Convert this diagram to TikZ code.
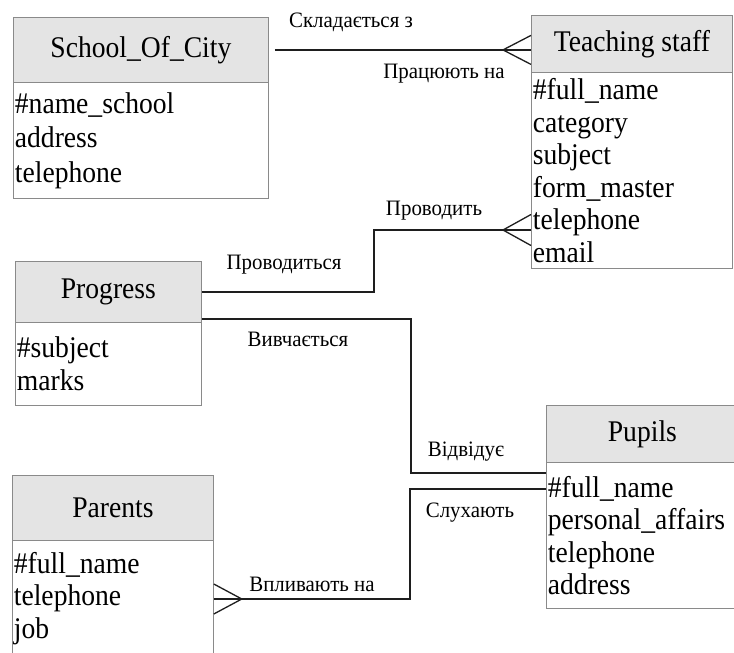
\documentclass[tikz,border=0pt]{standalone}
\usepackage{fontspec}
\setmainfont{Liberation Serif}
\newfontfamily\entfam{Liberation Serif}[FakeStretch=0.92]
\newfontfamily\lblfam{Liberation Serif}[FakeStretch=0.95]
\usetikzlibrary{calc}
\definecolor{boxgray}{HTML}{8A8A8A}
\definecolor{hdrgray}{HTML}{E4E4E4}
\definecolor{linecol}{HTML}{1E1E1E}
\newcommand{\efont}{\entfam\fontsize{30}{32.5}\selectfont}
\newcommand{\esfont}{\entfam\fontsize{30}{34.5}\selectfont}
\newcommand{\lfont}{\lblfam\fontsize{22}{24}\selectfont}
\begin{document}
\begin{tikzpicture}[x=1pt,y=-1pt,
  hdr/.style={draw=boxgray, fill=hdrgray, line width=0.8pt, anchor=north west,
    inner sep=0pt, font=\efont},
  bdy/.style={draw=boxgray, fill=white, line width=0.8pt, anchor=north west,
    align=left, inner xsep=1.5pt, inner ysep=0pt, font=\efont},
  conn/.style={draw=linecol, line width=1.3pt},
  lbl/.style={font=\lfont, inner sep=0pt, text=black}]
\useasboundingbox[fill=white] (0,0) rectangle (734,653);

% School_Of_City
\node[hdr, minimum width=255pt, minimum height=65pt] (schoolH) at (13,17) {School\_Of\_City};
\node[bdy, minimum width=255pt, minimum height=116pt, text width=252pt, font=\esfont] (schoolB) at (13,82)
  {\#name\_school\\address\\telephone};

% Teaching staff
\node[hdr, minimum width=201pt, minimum height=57pt] (staffH) at (531,15) {Teaching staff};
\node[bdy, minimum width=201pt, minimum height=196pt, text width=198pt] (staffB) at (531,72)
  {\#full\_name\\category\\subject\\form\_master\\telephone\\email};

% Progress
\node[hdr, minimum width=186pt, minimum height=61pt] (progH) at (15,261) {Progress};
\node[bdy, minimum width=186pt, minimum height=83pt, text width=183pt] (progB) at (15,322)
  {\#subject\\marks};

% Pupils
\node[hdr, minimum width=192pt, minimum height=57pt] (pupilH) at (546,405) {Pupils};
\node[bdy, minimum width=192pt, minimum height=146pt, text width=189pt] (pupilB) at (546,462)
  {\#full\_name\\personal\_affairs\\telephone\\address};

% Parents
\node[hdr, minimum width=201pt, minimum height=65pt] (parentH) at (12,475) {Parents};
\node[bdy, minimum width=201pt, minimum height=116pt, text width=198pt] (parentB) at (12,540)
  {\#full\_name\\telephone\\job};

% connector School -> Teaching staff
\coordinate (tA) at (schoolH.east -| staffH.west);
\draw[conn, shorten <=6pt] (schoolH.east) -- (tA);
\draw[conn] ($(tA)+(0,-14.5)$) -- ($(tA)+(-28,0)$) -- ($(tA)+(0,14.5)$);

% connector Progress -> Teaching staff
\coordinate (tB) at (staffB.west |- 0,230);
\draw[conn] (progH.east) -| ($(tB)+(-157,0)$) -- (tB);
\draw[conn] ($(tB)+(0,-15.5)$) -- ($(tB)+(-28,0)$) -- ($(tB)+(0,15.5)$);

% connector Progress -> Pupils
\coordinate (pA) at (pupilB.west |- 0,473);
\coordinate (prA) at (progH.east |- 0,319);
\draw[conn] (prA) -| ($(pA)+(-135,0)$) -- (pA);

% connector Parents -> Pupils
\coordinate (pB) at (pupilB.west |- 0,489);
\coordinate (parA) at (parentB.east |- 0,599);
\draw[conn] (parA) -| ($(pB)+(-136,0)$) -- (pB);
\draw[conn] ($(parA)+(0,-15)$) -- ($(parA)+(28,0)$) -- ($(parA)+(0,15)$);

% labels
\node[lbl] (l1) at (351,22) {Складається з};
\node[lbl] (l2) at (444,74) {Працюють на};
\node[lbl] (l3) at (434,211) {Проводить};
\node[lbl] (l4) at (284,265) {Проводиться};
\node[lbl] (l5) at (298,339) {Вивчається};
\node[lbl] (l6) at (466,452) {Відвідує};
\node[lbl] (l7) at (470,513) {Слухають};
\node[lbl] (l8) at (312,584) {Впливають на};
\end{tikzpicture}
\end{document}
